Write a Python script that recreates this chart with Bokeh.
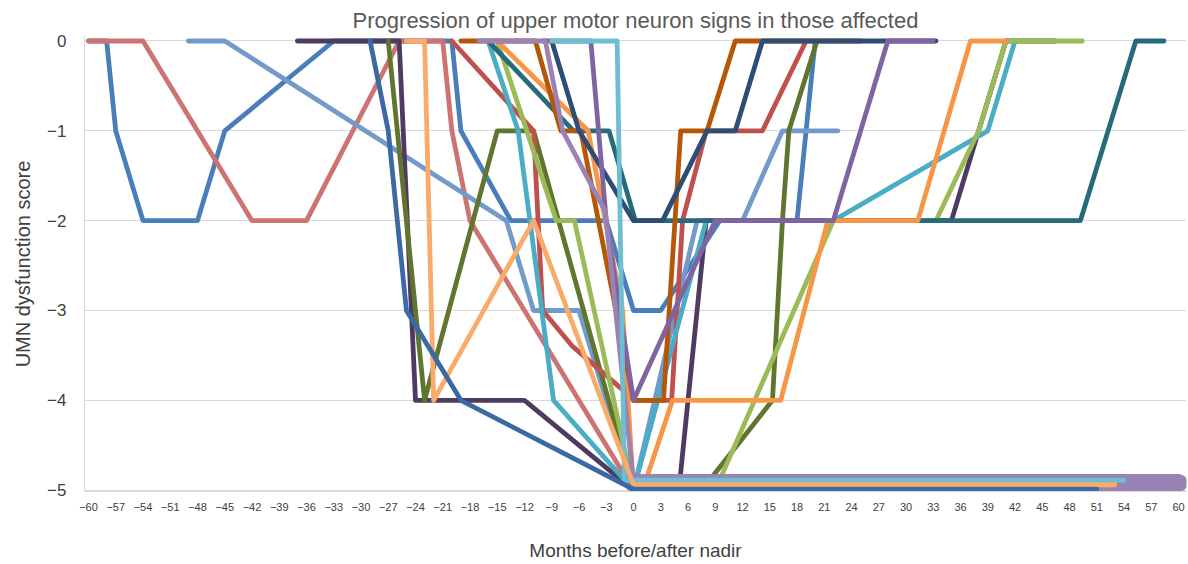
from bokeh.plotting import figure
from bokeh.models import Range1d, FixedTicker
from bokeh.embed import file_html
from bokeh.resources import INLINE

# ---- data: months relative to nadir and UMN dysfunction scores (breakpoints) ----
blue_m = [-60, -58, -57, -54, -48, -45, -33, -20, -19, -13.5, -3, 0, 3, 9.5, 18, 20]
blue_v = [0, 0, -1, -2, -2, -1, 0, 0, -1, -2, -2, -3, -3, -2, -2, 0]

lightred_m = [-60, -54, -42, -36, -25.8, -21, -20, -18, 0]
lightred_v = [0, 0, -2, -2, 0, 0, -1, -2, -5]

lightblue_m = [-49, -45, -14, -11, -6, 0, 7, 12, 16.4, 22.5]
lightblue_v = [0, 0, -2, -3, -3, -5, -2, -2, -1, -1]

darkpurple_m = [-37, -25.8, -24, -12, 0, 5, 8, 35, 41, 46.5]
darkpurple_v = [0, 0, -4, -4, -5, -5, -2, -2, 0, 0]

darkgreen_m = [-27, -23, -15, -11, 0, 7.5, 15.3, 16.4, 17.1, 20.2]
darkgreen_v = [0, -4, -1, -1, -5, -5, -4, -2, -1, 0]

red_m = [-20, -11, -10, -6.7, -1, 0, 4.2, 5.4, 8, 14.2, 19]
red_v = [0, -1, -3, -3.4, -3.9, -4, -4, -2, -1, -1, 0]

aqua_m = [-16, -12.7, -8.8, 0, 8, 22, 39, 42]
aqua_v = [0, -1, -4, -5, -2, -2, -1, 0]

green_m = [-15, -8.5, -6.5, 0, 9, 22, 33.3, 38, 41, 49.4]
green_v = [0, -2, -2, -5, -5, -2, -2, -1, 0, 0]

darkteal_m = [-16, -6.6, -2.7, 0.2, 49.2, 55.3, 58.4]
darkteal_v = [0, -1, -1, -2, -2, 0, 0]

orange_m = [-15, -5, -1.2, 0, 1, 4.3, 16.2, 21.4, 31.3, 37.1, 41]
orange_v = [0, -1, -3, -5, -5, -4, -4, -2, -2, 0, 0]

darkorange_m = [-19, -10.8, -8, -5.8, 0, 3.3, 5.2, 8.1, 11.2, 25]
darkorange_v = [0, 0, -1, -1, -4, -4, -1, -1, 0, 0]

navy_m = [-9, -6, 0, 3.2, 8.1, 11.2, 14.2, 33.3]
navy_v = [0, -1, -2, -2, -1, -1, 0, 0]

purple_m = [-10, -4.7, -3, 0, 9, 22, 28, 33]
purple_v = [0, 0, -2, -4, -2, -2, 0, 0]

lightpurple_m = [-17, -9.7, -7.8, -3.1, 0, 60]
lightpurple_v = [0, 0, -1, -1.9, -4.92, -4.92]

lightaqua_m = [-9, -1.8, -1, 54]
lightaqua_v = [0, 0, -4.89, -4.89]

lightorange_m = [-25, -23, -22, -11, 0, 53]
lightorange_v = [0, 0, -4, -2, -4.94, -4.94]

darkblue_m = [-29, -27, -25, -19, 0, 51]
darkblue_v = [0, -1, -3, -4, -4.99, -4.99]

x_tick_values = list(range(-60, 61, 3))
x_tick_labels = [str(t).replace("-", "\u2212") for t in x_tick_values]
y_tick_values = [0, -1, -2, -3, -4, -5]
y_tick_labels = [str(t).replace("-", "\u2212") for t in y_tick_values]

FONT = "Liberation Sans"

p = figure(width=1188, height=564, output_backend="svg", toolbar_location=None,
           x_range=Range1d(-60.44, 60.88), y_range=Range1d(-5.015, 0.05),
           min_border_left=84, min_border_right=2, min_border_top=36, min_border_bottom=73)

p.title.text = "Progression of upper motor neuron signs in those affected"
p.title.align = "center"
p.title.text_font = FONT
p.title.text_font_size = "22px"
p.title.text_font_style = "normal"
p.title.text_color = "#595959"
p.title.standoff = 8

p.outline_line_color = None
p.background_fill_color = "white"
p.border_fill_color = "white"
p.xgrid.grid_line_color = None
p.ygrid.grid_line_color = "#d9d9d9"
p.ygrid.grid_line_width = 1
p.ygrid.ticker = FixedTicker(ticks=y_tick_values)

# x axis
p.xaxis.ticker = FixedTicker(ticks=x_tick_values)
p.xaxis.major_label_overrides = dict(zip(x_tick_values, x_tick_labels))
p.xaxis.axis_label = "Months before/after nadir"
p.xaxis.axis_label_text_font = FONT
p.xaxis.axis_label_text_font_size = "19px"
p.xaxis.axis_label_text_font_style = "normal"
p.xaxis.axis_label_text_color = "#404040"
p.xaxis.axis_label_standoff = 26
p.xaxis.major_label_text_font = FONT
p.xaxis.major_label_text_font_size = "11px"
p.xaxis.major_label_text_color = "#404040"
p.xaxis.major_label_standoff = 5
p.xaxis.axis_line_color = "#d9d9d9"
p.xaxis.major_tick_line_color = None
p.xaxis.minor_tick_line_color = None

# y axis
p.yaxis.ticker = FixedTicker(ticks=y_tick_values)
p.yaxis.major_label_overrides = dict(zip(y_tick_values, y_tick_labels))
p.yaxis.axis_label = "UMN dysfunction score"
p.yaxis.axis_label_text_font = FONT
p.yaxis.axis_label_text_font_size = "20px"
p.yaxis.axis_label_text_font_style = "normal"
p.yaxis.axis_label_text_color = "#404040"
p.yaxis.axis_label_standoff = 10
p.yaxis.major_label_text_font = FONT
p.yaxis.major_label_text_font_size = "17px"
p.yaxis.major_label_text_color = "#404040"
p.yaxis.major_label_standoff = 12
p.yaxis.axis_line_color = "#d9d9d9"
p.yaxis.major_tick_line_color = None
p.yaxis.minor_tick_line_color = None

LW = 4.8
series = [
    (blue_m, blue_v, "#4a7ebb"),
    (lightred_m, lightred_v, "#cd7371"),
    (lightblue_m, lightblue_v, "#729aca"),
    (darkpurple_m, darkpurple_v, "#4d3b62"),
    (darkgreen_m, darkgreen_v, "#5f7530"),
    (red_m, red_v, "#c0504d"),
    (aqua_m, aqua_v, "#4bacc6"),
    (green_m, green_v, "#9bbb59"),
    (darkteal_m, darkteal_v, "#276a7c"),
    (orange_m, orange_v, "#f79646"),
    (darkorange_m, darkorange_v, "#b65708"),
    (navy_m, navy_v, "#2c4d75"),
    (purple_m, purple_v, "#8064a2"),
]
for m, v, c in series:
    p.line(m, v, line_color=c, line_width=LW, line_join="round", line_cap="round")

# series resting on the floor after the nadir
pm = [m for m in lightpurple_m if m >= 0]
pv = [v for m, v in zip(lightpurple_m, lightpurple_v) if m >= 0]
p.line(pm, pv, line_color="#9983b5", line_width=18, line_join="round", line_cap="round")
p.line(lightpurple_m, lightpurple_v, line_color="#9983b5", line_width=LW, line_join="round", line_cap="round")
p.line(lightaqua_m, lightaqua_v, line_color="#6fbdd1", line_width=LW, line_join="round", line_cap="round")
p.line(lightorange_m, lightorange_v, line_color="#f9ab6b", line_width=LW, line_join="round", line_cap="round")
p.line(darkblue_m, darkblue_v, line_color="#3a69a3", line_width=LW, line_join="round", line_cap="round")

open("out.html", "w").write(file_html(p, INLINE))
